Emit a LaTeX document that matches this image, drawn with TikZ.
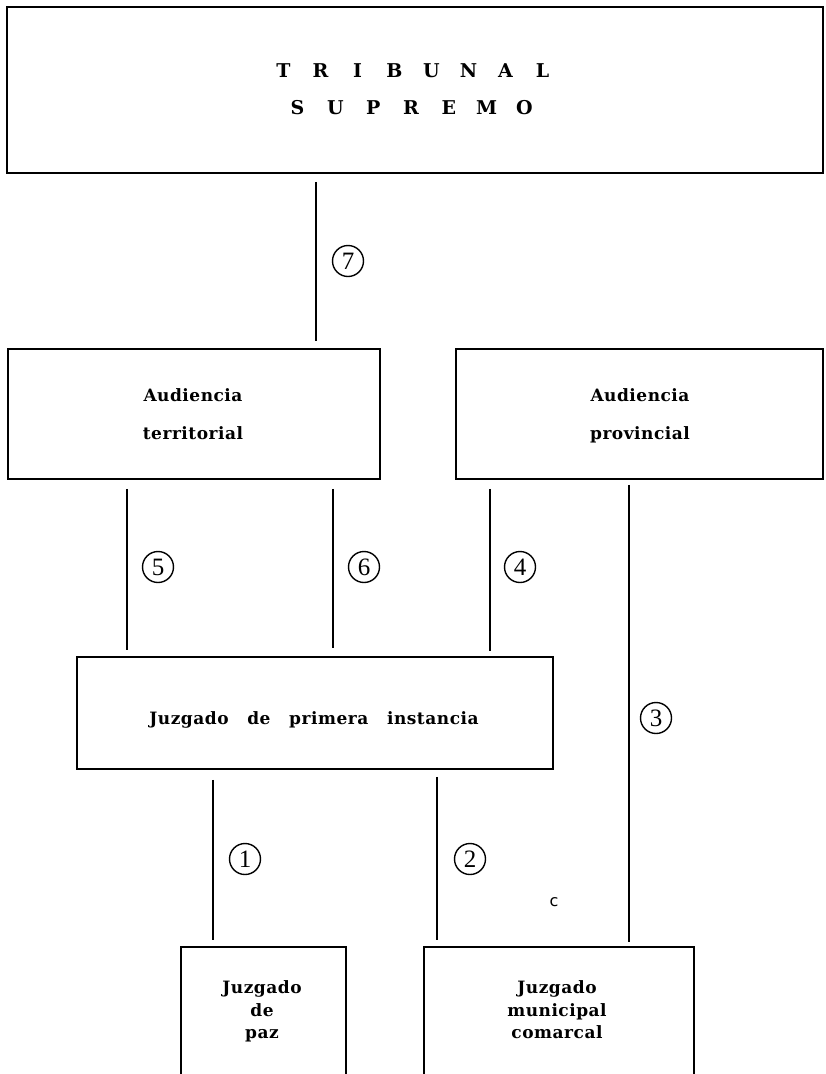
\documentclass[tikz,border=0pt]{standalone}
\usepackage{fontspec}
\setmainfont[LetterSpace=3]{DejaVu Serif}
\newfontfamily\titlefont{DejaVu Serif}
\newfontfamily\numfont{Liberation Serif}
\newfontfamily\cfont{DejaVu Sans}
\newcommand\lbA[1]{\makebox[37pt]{#1}}
\newcommand\lbB[1]{\makebox[37.8pt]{#1}}
\begin{document}
\begin{tikzpicture}[x=1pt,y=-1pt,
  box/.style={draw, line width=1.9pt, inner sep=0pt, anchor=north west},
  conn/.style={line width=1.9pt},
  num/.style={circle, draw, line width=1.4pt, minimum size=31pt, inner sep=0pt,
              font=\numfont\fontsize{25}{25}\selectfont},
  lab/.style={anchor=base, inner sep=0pt, font=\bfseries\fontsize{17}{20}\selectfont},
  title/.style={anchor=base, inner sep=0pt, font=\titlefont\bfseries\fontsize{19}{22}\selectfont}]
\useasboundingbox (0,0) rectangle (826,1074);
% boxes
\node[box, minimum width=816pt, minimum height=166pt] (ts) at (6,6) {};
\node[box, minimum width=372pt, minimum height=130pt] (at) at (7,348) {};
\node[box, minimum width=367pt, minimum height=130pt] (ap) at (455,348) {};
\node[box, minimum width=476pt, minimum height=112pt] (pi) at (76,656) {};
\node[box, minimum width=165pt, minimum height=170pt] (jp) at (180,946) {};
\node[box, minimum width=270pt, minimum height=170pt] (jm) at (423,946) {};
% texts
\node[title] (ts1) at (413,77) {\lbA{T}\lbA{R}\lbA{I}\lbA{B}\lbA{U}\lbA{N}\lbA{A}\lbA{L}};
\node[title] (ts2) at (411,114) {\lbB{S}\lbB{U}\lbB{P}\lbB{R}\lbB{E}\lbB{M}\lbB{O}};
\node[lab] (at1) at (193,401) {Audiencia};
\node[lab] (at2) at (193,439) {territorial};
\node[lab] (ap1) at (640,401) {Audiencia};
\node[lab] (ap2) at (640,439) {provincial};
\node[lab] (pi1) at (314,724) {Juzgado\hspace{1.1em}de\hspace{1.1em}primera\hspace{1.1em}instancia};
\node[lab] (jp1) at (262,993) {Juzgado};
\node[lab] (jp2) at (262,1016) {de};
\node[lab] (jp3) at (262,1038) {paz};
\node[lab] (jm1) at (557,993) {Juzgado};
\node[lab] (jm2) at (557,1016) {municipal};
\node[lab] (jm3) at (557,1038) {comarcal};
\node[font=\cfont\fontsize{16}{16}\selectfont, inner sep=0pt] (cc) at (554,902) {c};
% connector x positions
\coordinate (L7) at (316,0);
\coordinate (L5) at (127,0);
\coordinate (L6) at (333,0);
\coordinate (L4) at (490,0);
\coordinate (L3) at (629,0);
\coordinate (L1) at (213,0);
\coordinate (L2) at (437,0);
% connectors
\draw[conn, shorten <=8pt, shorten >=7pt] (ts.south -| L7) -- (at.north -| L7);
\draw[conn, shorten <=9pt, shorten >=6pt] (at.south -| L5) -- (pi.north -| L5);
\draw[conn, shorten <=9pt, shorten >=8pt] (at.south -| L6) -- (pi.north -| L6);
\draw[conn, shorten <=9pt, shorten >=5pt] (ap.south -| L4) -- (pi.north -| L4);
\draw[conn, shorten <=5pt, shorten >=4pt] (ap.south -| L3) -- (jm.north -| L3);
\draw[conn, shorten <=10pt, shorten >=6pt] (pi.south -| L1) -- (jp.north -| L1);
\draw[conn, shorten <=7pt, shorten >=6pt] (pi.south -| L2) -- (jm.north -| L2);
% circled numbers
\node[num] (n7) at (348,261) {7};
\node[num] (n5) at (158,567) {5};
\node[num] (n6) at (364,567) {6};
\node[num] (n4) at (520,567) {4};
\node[num] (n3) at (656,718) {3};
\node[num] (n1) at (245,859) {1};
\node[num] (n2) at (470,859) {2};
\end{tikzpicture}
\end{document}
